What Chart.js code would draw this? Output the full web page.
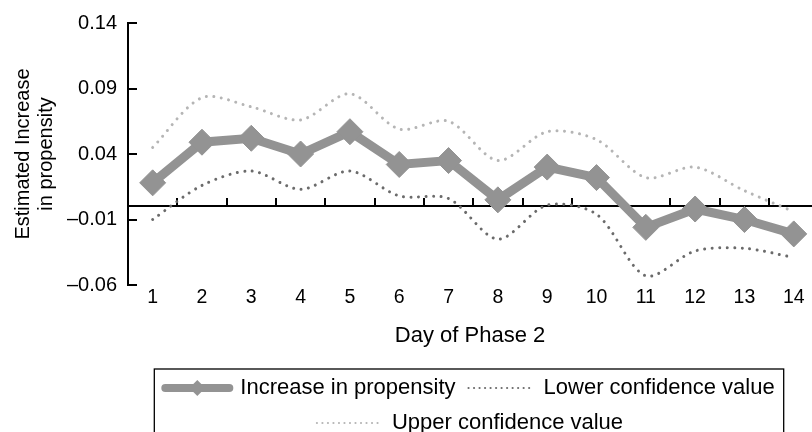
<!DOCTYPE html>
<html>
<head>
<meta charset="utf-8">
<script src="https://cdn.jsdelivr.net/npm/chart.js@4"></script>
<style>
  html, body { margin: 0; padding: 0; background: #fff; overflow: hidden; }
</style>
</head>
<body>
<canvas id="chart" width="812" height="432"></canvas>
<script>
const days      = [1, 2, 3, 4, 5, 6, 7, 8, 9, 10, 11, 12, 13, 14];
const dayLabels = ['1', '2', '3', '4', '5', '6', '7', '8', '9', '10', '11', '12', '13', '14'];
const increase  = [0.018, 0.049, 0.052, 0.040, 0.057, 0.032, 0.035, 0.005, 0.030, 0.022, -0.016, -0.002, -0.010, -0.021];
const lowerCI   = [-0.010, 0.016, 0.027, 0.013, 0.027, 0.008, 0.006, -0.025, 0.001, -0.006, -0.053, -0.034, -0.032, -0.039];
const upperCI   = [0.045, 0.083, 0.076, 0.066, 0.086, 0.059, 0.065, 0.035, 0.057, 0.051, 0.022, 0.030, 0.012, -0.004];
const yTicks      = [-0.06, -0.01, 0.04, 0.09, 0.14];
const yTickLabels = ['\u20130.06', '\u20130.01', '0.04', '0.09', '0.14'];

const FONT  = '"Liberation Sans", Arial, Helvetica, sans-serif';
const MAIN  = '#939393';
const LOW   = '#6b6b6b';
const HIGH  = '#b5b5b5';

const toPoints = vals => days.map((d, i) => ({ x: d, y: vals[i] }));

// legend symbol styles (line markers)
const legendStyle = [
  { pointStyle: 'line', lineWidth: 8, lineCap: 'round', lineDash: [], strokeStyle: MAIN },
  { pointStyle: 'line', lineWidth: 2.2, lineCap: 'round', lineDash: [0.01, 5.5], strokeStyle: LOW },
  { pointStyle: 'line', lineWidth: 2.2, lineCap: 'round', lineDash: [0.01, 5.5], strokeStyle: HIGH }
];

// zero line with upward ticks between days, inward y ticks
const axisMarks = {
  id: 'axisMarks',
  beforeDatasetsDraw(chart) {
    const { ctx, chartArea, scales: { x, y } } = chart;
    const y0 = Math.round(y.getPixelForValue(0));
    ctx.save();
    ctx.strokeStyle = '#000';
    ctx.lineWidth = 2;
    ctx.beginPath();
    ctx.moveTo(chartArea.left, y0);
    ctx.lineTo(chart.width, y0);
    days.slice(0, -1).forEach(d => {
      const px = Math.round(x.getPixelForValue(d + 0.5));
      ctx.moveTo(px, y0);
      ctx.lineTo(px, y0 - 8);
    });
    y.ticks.forEach(t => {
      const py = Math.round(y.getPixelForValue(t.value));
      ctx.moveTo(chartArea.left, py);
      ctx.lineTo(chartArea.left + 9, py);
    });
    ctx.stroke();
    ctx.restore();
  }
};

// frame around the legend + diamond on the first symbol
const legendFrame = {
  id: 'legendFrame',
  afterDraw(chart) {
    const lg = chart.legend;
    const hb = lg && lg.legendHitBoxes;
    if (!hb || !hb.length) return;
    const { ctx } = chart;
    const sw = lg.options.labels.pointStyleWidth;
    const left = Math.min(hb[0].left, hb[1].left) - 11;
    const right = Math.max(hb[0].left + hb[0].width, hb[1].left + hb[1].width) + 9;
    const top = hb[0].top - 8;
    ctx.save();
    ctx.strokeStyle = '#000';
    ctx.lineWidth = 1.3;
    ctx.strokeRect(left, top, right - left, chart.height + 10 - top);
    const cx = hb[0].left + sw / 2, cy = hb[0].top + hb[0].height / 2, r = 8;
    ctx.fillStyle = MAIN;
    ctx.beginPath();
    ctx.moveTo(cx - r, cy); ctx.lineTo(cx, cy - r); ctx.lineTo(cx + r, cy); ctx.lineTo(cx, cy + r);
    ctx.closePath();
    ctx.fill();
    ctx.restore();
  }
};

new Chart(document.getElementById('chart').getContext('2d'), {
  type: 'line',
  data: {
    datasets: [
      {
        label: 'Increase in propensity',
        data: toPoints(increase),
        borderColor: MAIN,
        backgroundColor: MAIN,
        borderWidth: 9,
        pointStyle: 'rectRot',
        pointRadius: 13,
        pointBackgroundColor: MAIN,
        pointBorderColor: MAIN,
        pointBorderWidth: 1,
        tension: 0
      },
      {
        label: 'Lower confidence value',
        data: toPoints(lowerCI),
        borderColor: LOW,
        borderWidth: 3,
        borderDash: [0.01, 7.5],
        borderCapStyle: 'round',
        pointRadius: 0,
        tension: 0.3
      },
      {
        label: 'Upper confidence value',
        data: toPoints(upperCI),
        borderColor: HIGH,
        borderWidth: 3,
        borderDash: [0.01, 7.5],
        borderCapStyle: 'round',
        pointRadius: 0,
        tension: 0.3
      }
    ]
  },
  options: {
    responsive: false,
    animation: false,
    devicePixelRatio: 1,
    layout: { autoPadding: false, padding: { top: 21, bottom: -12, left: 0, right: 0 } },
    scales: {
      x: {
        type: 'linear',
        min: 0.5,
        max: 14.37,
        afterBuildTicks: s => { s.ticks = days.map(v => ({ value: v })); },
        afterFit: s => { s.height = 79; s.paddingLeft = 0; s.paddingRight = 0; },
        grid: { display: false, drawTicks: false },
        border: { display: false },
        ticks: {
          padding: 1,
          color: '#000',
          autoSkip: false,
          maxRotation: 0,
          font: { family: FONT, size: 19.5 },
          callback: (v, i) => dayLabels[i]
        },
        title: {
          display: true,
          text: 'Day of Phase 2',
          color: '#000',
          font: { family: FONT, size: 22 },
          padding: { top: 0, bottom: 15 }
        }
      },
      y: {
        min: -0.06,
        max: 0.14,
        afterBuildTicks: s => { s.ticks = yTicks.map(v => ({ value: v })); },
        afterFit: s => { s.width = 128; },
        grid: { display: false, drawTicks: false },
        border: { display: true, color: '#000', width: 2 },
        ticks: {
          padding: 11,
          color: '#000',
          font: { family: FONT, size: 20 },
          callback: (v, i) => yTickLabels[i]
        },
        title: {
          display: true,
          text: ['Estimated Increase', 'in propensity'],
          color: '#000',
          font: { family: FONT, size: 20, lineHeight: 1.15 },
          padding: { top: 12, bottom: 0 }
        }
      }
    },
    plugins: {
      tooltip: { enabled: false },
      legend: {
        position: 'bottom',
        fullSize: false,
        labels: {
          usePointStyle: true,
          pointStyleWidth: 64,
          padding: 13,
          color: '#000',
          font: { family: FONT, size: 22 },
          generateLabels(chart) {
            const items = Chart.defaults.plugins.legend.labels.generateLabels(chart);
            return items.map((it, i) => Object.assign(it, legendStyle[i]));
          }
        }
      }
    }
  },
  plugins: [axisMarks, legendFrame]
});
</script>
</body>
</html>
